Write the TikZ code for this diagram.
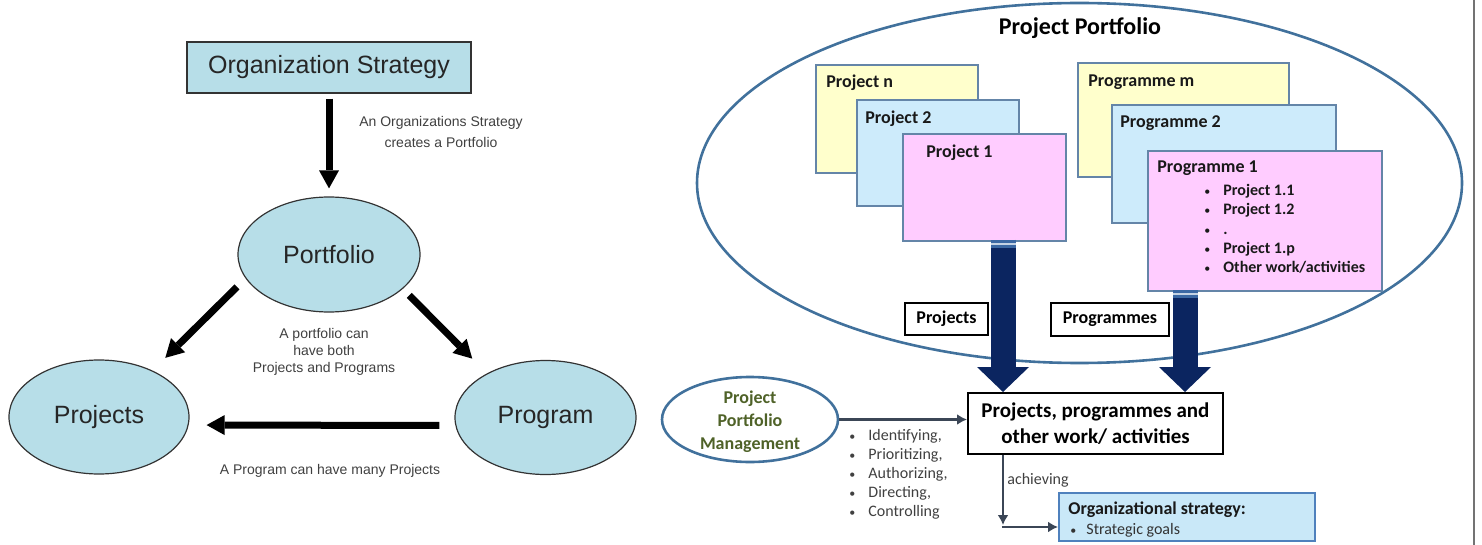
\documentclass[tikz,border=0pt]{standalone}
\usepackage{fontspec}
\setmainfont{Liberation Sans}
\newfontfamily\carlito{Carlito}
\usetikzlibrary{shapes.geometric,arrows.meta}
\definecolor{lteal}{HTML}{B7DEE8}
\definecolor{pfblue}{HTML}{41719C}
\definecolor{boxline}{HTML}{6485A8}
\definecolor{pyellow}{HTML}{FFFFCC}
\definecolor{pblue}{HTML}{CDEBFB}
\definecolor{ppink}{HTML}{FFCCFF}
\definecolor{navy}{HTML}{0B2560}
\definecolor{bandblue}{HTML}{3B68A3}
\definecolor{ppmgreen}{HTML}{4F6228}
\definecolor{slate}{HTML}{3B4656}
\definecolor{goalfill}{HTML}{C9E8F8}
\definecolor{goalline}{HTML}{4F81BD}
\newcommand{\smbul}[1]{\makebox[#1][l]{\mdseries\fontsize{6}{6}\selectfont\textbullet}}
\tikzset{
  tealbox/.style={draw=black!80,line width=0.6pt,fill=lteal,inner sep=0pt,text=black!85,font=\fontsize{12.5}{15}\selectfont},
  tealell/.style={tealbox,ellipse},
  fatarrow/.style={line width=3.5pt,-{Triangle[width=10pt,length=9pt,line width=0pt]}},
  note/.style={align=center,inner sep=0pt,text=black!75},
  stackbox/.style={draw=boxline,line width=0.8pt,anchor=north west,inner sep=0pt},
  boxtitle/.style={anchor=west,inner sep=0pt,text=black!90,font=\carlito\bfseries\fontsize{9}{11}\selectfont},
  labbox/.style={draw=black,line width=0.8pt,fill=white,inner sep=0pt,font=\carlito\bfseries\fontsize{9}{11}\selectfont},
  navyarrow/.style={draw=navy,line width=12.5pt,-{Triangle[width=26pt,length=12.5pt,line width=0pt]}},
  darrow/.style={draw=slate,line width=1.2pt,-{Latex[width=5.5pt,length=5pt]}}
}
\begin{document}
\begin{tikzpicture}[x=0.5pt,y=-0.5pt]
\useasboundingbox (0,0) rectangle (1482,545);
%left chart
\node[tealbox,minimum width=142pt,minimum height=25.5pt] (orgstrat) at (329,67.5) {Organization Strategy};
\node[tealell,minimum width=91pt,minimum height=57.5pt] (portfolio) at (329,254.5) {Portfolio};
\node[tealell,minimum width=90pt,minimum height=57pt] (projects) at (99,417) {Projects};
\node[tealell,minimum width=90.5pt,minimum height=57pt] (program) at (545.5,417.5) {Program};
%arrows
\draw[fatarrow,shorten <=2.5pt,shorten >=4pt] (orgstrat) -- (portfolio);
\draw[fatarrow,shorten <=6pt,shorten >=9pt] (portfolio.196) -- (projects.41);
\draw[fatarrow,shorten <=4.6pt,shorten >=10.4pt] (portfolio.335) -- (program.143);
\draw[fatarrow,shorten <=7.5pt,shorten >=8.5pt] ([yshift=-4pt]program.west) -- ([yshift=-4pt]projects.east);
\node[note,font=\fontsize{7}{10.5}\selectfont] (strnote) at (441,132) {An Organizations Strategy\\creates a Portfolio};
\node[note,font=\fontsize{7}{8.5}\selectfont] (pfnote) at (324,352) {A portfolio can\\have both\\Projects and Programs};
\node[note,font=\fontsize{7}{8.5}\selectfont] (prnote) at (330,471) {A Program can have many Projects};
%project portfolio
\node[ellipse,draw=pfblue,line width=1.3pt,minimum width=382.5pt,minimum height=180pt,inner sep=0pt] (pfell) at (1079.5,183) {};
\node[font=\carlito\bfseries\fontsize{12}{14}\selectfont] (pftitle) at (1080,28) {Project Portfolio};
%stacked boxes
\node[stackbox,fill=pyellow,minimum width=81pt,minimum height=54pt] (projn) at (815,64) {};
\node[boxtitle] (projnlab) at ([xshift=5.5pt,yshift=-9.5pt]projn.north west) {Project n};
\node[stackbox,fill=pblue,minimum width=81pt,minimum height=53pt] (proj2) at (856,99) {};
\node[boxtitle] (proj2lab) at ([xshift=4.5pt,yshift=-10pt]proj2.north west) {Project 2};
\node[stackbox,fill=ppink,minimum width=81.5pt,minimum height=53.5pt] (proj1) at (902,133) {};
\node[boxtitle] (proj1lab) at ([xshift=12pt,yshift=-10pt]proj1.north west) {Project 1};
\node[stackbox,fill=pyellow,minimum width=105.5pt,minimum height=57pt] (progm) at (1077,62) {};
\node[boxtitle] (progmlab) at ([xshift=5.5pt,yshift=-10pt]progm.north west) {Programme m};
\node[stackbox,fill=pblue,minimum width=112pt,minimum height=59pt] (prog2) at (1111,104) {};
\node[boxtitle] (prog2lab) at ([xshift=4.5pt,yshift=-9.5pt]prog2.north west) {Programme 2};
\node[stackbox,fill=ppink,minimum width=117pt,minimum height=70pt] (prog1) at (1147,150) {};
\node[boxtitle] (prog1lab) at ([xshift=5pt,yshift=-9pt]prog1.north west) {Programme 1};
\node[anchor=north west,inner sep=0pt,align=left,text=black!90,font=\carlito\bfseries\fontsize{8}{9.6}\selectfont] (prog1list) at (1204,184)
  {\smbul{9.5pt}Project 1.1\\\smbul{9.5pt}Project 1.2\\\smbul{9.5pt}.\\\smbul{9.5pt}Project 1.p\\\smbul{9.5pt}Other work/activities};
%flow
\node[draw=black,line width=1pt,fill=white,minimum width=127.5pt,minimum height=30.5pt,inner sep=0pt,align=center,font=\carlito\bfseries\fontsize{10.5}{13}\selectfont] (central) at (1095.5,423.5) {Projects, programmes and\\other work/ activities};
\coordinate (projout) at (1003,240);
\coordinate (progout) at (1185,290);
\draw[navyarrow] (projout) -- (projout |- central.north);
\draw[navyarrow] (progout) -- (progout |- central.north);
\fill[bandblue] ([xshift=-6.25pt]projout) rectangle ([xshift=6.25pt,yshift=-4pt]projout);
\fill[bandblue] ([xshift=-6.25pt]progout) rectangle ([xshift=6.25pt,yshift=-4pt]progout);
\draw[white!70!bandblue,line width=0.6pt] ([xshift=-6.25pt,yshift=-2pt]projout) -- ([xshift=6.25pt,yshift=-2pt]projout);
\draw[white!70!bandblue,line width=0.6pt] ([xshift=-6.25pt,yshift=-2pt]progout) -- ([xshift=6.25pt,yshift=-2pt]progout);
\node[labbox,minimum width=41.5pt,minimum height=16pt] (projlab) at (946.5,319) {Projects};
\node[labbox,minimum width=59pt,minimum height=16.5pt] (proglab) at (1110,319.5) {Programmes};
%management
\node[ellipse,draw=pfblue,line width=1.3pt,fill=white,minimum width=88pt,minimum height=42.5pt,inner sep=0pt] (ppm) at (750,419.5) {};
\node[align=center,inner sep=0pt,text=ppmgreen,font=\carlito\bfseries\fontsize{9}{11.5}\selectfont] (ppmtext) at ([yshift=-1pt]ppm) {Project\\Portfolio\\Management};
\draw[darrow] (ppm.east) -- (ppm.east -| central.west);
\node[anchor=north west,inner sep=0pt,align=left,text=black!75,font=\carlito\fontsize{8}{9.5}\selectfont] (ppmlist) at (849,429)
  {\smbul{9.5pt}Identifying,\\\smbul{9.5pt}Prioritizing,\\\smbul{9.5pt}Authorizing,\\\smbul{9.5pt}Directing,\\\smbul{9.5pt}Controlling};
%goal
\node[draw=goalline,line width=1pt,fill=goalfill,minimum width=128pt,minimum height=24pt,inner sep=0pt] (goal) at (1187,517) {};
\node[anchor=west,inner sep=0pt,text=black!90,font=\carlito\bfseries\fontsize{9}{11}\selectfont] (goaltitle) at (1068,510) {Organizational strategy:};
\node[anchor=west,inner sep=0pt,text=black!80,font=\carlito\fontsize{8}{10}\selectfont] (goalitem) at (1070,530) {\smbul{8pt}Strategic goals};
\coordinate (corner) at (1003,527);
\draw[darrow] (central.south -| corner) -- ([yshift=1pt]corner);
\draw[darrow] ([xshift=-0.6pt]corner) -- (corner -| goal.west);
\node[anchor=west,inner sep=0pt,text=black!75,font=\carlito\fontsize{8}{10}\selectfont] (achlab) at (1007,480) {achieving};
%frame edge
\draw[black!55,line width=0.8pt] (1474,0) -- (1474,545);
\end{tikzpicture}
\end{document}
